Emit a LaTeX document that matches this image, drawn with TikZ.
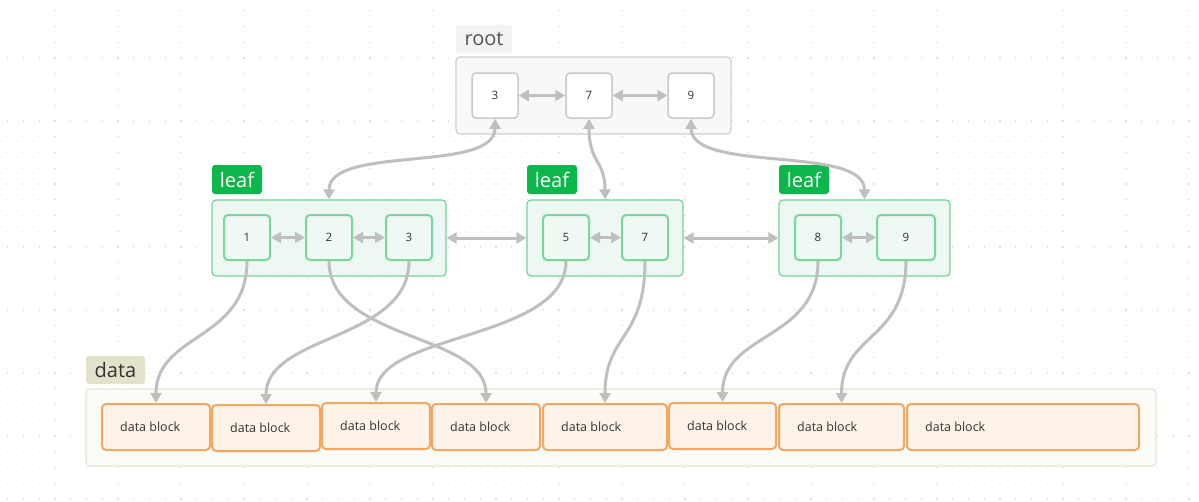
\documentclass[tikz,border=0pt]{standalone}
\usepackage{fontspec}
\setmainfont{Open Sans}
\usetikzlibrary{arrows.meta}
\definecolor{dotc}{HTML}{E0E0E0}
\definecolor{arrowc}{HTML}{BFBFBF}
\definecolor{rootborder}{HTML}{CFCFCF}
\definecolor{rootfill}{HTML}{F8F8F8}
\definecolor{rnodeborder}{HTML}{C9C9C9}
\definecolor{rootlabfill}{HTML}{F3F3F3}
\definecolor{rootlabtext}{HTML}{555555}
\definecolor{greenlab}{HTML}{0BB74B}
\definecolor{leafborder}{HTML}{72D49A}
\definecolor{leaffill}{HTML}{EEF8F2}
\definecolor{lnodeborder}{HTML}{78D69F}
\definecolor{lnodefill}{HTML}{EFF8F3}
\definecolor{datafill}{HTML}{FBFBF8}
\definecolor{databorder}{HTML}{E5E5D5}
\definecolor{datalabfill}{HTML}{E3E2CB}
\definecolor{blockborder}{HTML}{F2A762}
\definecolor{blockfill}{HTML}{FEF3E9}
\definecolor{txt}{HTML}{333333}
\begin{document}
\begin{tikzpicture}[x=1pt,y=-1pt,
  container/.style={rounded corners=4pt, line width=1.2pt, inner sep=0pt, minimum height=77pt},
  rootbox/.style={container, draw=rootborder, fill=rootfill},
  leafbox/.style={container, draw=leafborder, fill=leaffill, minimum height=76pt},
  databox/.style={container, draw=databorder, fill=datafill},
  rnode/.style={draw=rnodeborder, fill=white, rounded corners=4pt, line width=1.5pt,
    minimum width=46pt, minimum height=45pt, inner sep=0pt, font=\fontsize{11.5}{13}\selectfont, text=txt},
  lnode/.style={draw=lnodeborder, fill=lnodefill, rounded corners=4pt, line width=2pt,
    minimum width=46pt, minimum height=45pt, inner sep=0pt, font=\fontsize{11.5}{13}\selectfont, text=txt},
  block/.style={draw=blockborder, fill=blockfill, rounded corners=4pt, line width=2pt,
    minimum height=46pt, inner sep=0pt},
  blocktext/.style={anchor=west, inner sep=0pt, font=\fontsize{12.5}{14}\selectfont, text=txt},
  tag/.style={rounded corners=3pt, inner sep=0pt, minimum height=29pt, font=\fontsize{20}{22}\selectfont},
  roottag/.style={tag, fill=rootlabfill, text=rootlabtext, minimum width=56pt},
  leaftag/.style={tag, fill=greenlab, text=white, minimum width=50pt},
  datatag/.style={tag, fill=datalabfill, text=txt, minimum width=59pt, minimum height=28pt},
  tip/.tip={Triangle[length=10pt,width=11pt]},
  conn/.style={draw=arrowc, line width=3pt, -tip},
  biconn/.style={draw=arrowc, line width=3pt, tip-tip},
]
\useasboundingbox (0,0) rectangle (1199,501);
\fill[white] (0,0) rectangle (1199,501);
\foreach \i in {0,...,75} {
  \foreach \j in {0,...,31} {
    \fill[dotc] ({7.1+15.75*\i},{10.1+15.75*\j}) rectangle +(1.3,1.3);
  }
}

% root
\node[roottag] (roottag) at (484,39) {root};
\node[rootbox, minimum width=275pt] (root) at (593.5,95.5) {};
\node[rnode] (r3) at (495,95.5) {3};
\node[rnode] (r7) at (589,95.5) {7};
\node[rnode] (r9) at (691,95.5) {9};
\draw[biconn] (r3.east) -- (r7.west);
\draw[biconn] (r7.east) -- (r9.west);

% leaves
\node[leaftag] (tag1) at (237,179.5) {leaf};
\node[leaftag] (tag2) at (552,179.5) {leaf};
\node[leaftag] (tag3) at (804,179.5) {leaf};
\node[leafbox, minimum width=234pt] (L1) at (329,238) {};
\node[leafbox, minimum width=156pt] (L2) at (605,238) {};
\node[leafbox, minimum width=171pt] (L3) at (864.5,238) {};
\node[lnode] (n1) at (247,237.5) {1};
\node[lnode] (n2) at (329,237.5) {2};
\node[lnode] (n3) at (409,237.5) {3};
\node[lnode] (n5) at (566,237.5) {5};
\node[lnode] (n7) at (645,237.5) {7};
\node[lnode] (n8) at (818,237.5) {8};
\node[lnode, minimum width=58pt] (n9) at (906,237.5) {9};
\draw[biconn] (n1.east) -- (n2.west);
\draw[biconn] (n2.east) -- (n3.west);
\draw[biconn] (n5.east) -- (n7.west);
\draw[biconn] (n8.east) -- (n9.west);
\draw[biconn] (L1.east) -- (L2.west);
\draw[biconn] (L2.east) -- (L3.west);

% root to leaves
\draw[biconn] (r3.south) .. controls +(0,55) and +(0,-55) .. (L1.north);
\draw[biconn] (r7.south) .. controls +(0,45) and +(0,-40) .. (L2.north);
\draw[biconn] (r9.south) .. controls +(0,55) and +(0,-55) .. (L3.north);

% data
\node[datatag] (datatag) at (115.5,370) {data};
\node[databox, minimum width=1070pt] (data) at (621,427.5) {};
\node[block, minimum width=108pt] (d1) at (156,427) {};
\node[block, minimum width=108pt] (d2) at (266,428) {};
\node[block, minimum width=108pt] (d3) at (376,426) {};
\node[block, minimum width=108pt] (d4) at (486,427) {};
\node[block, minimum width=124pt] (d5) at (605,427) {};
\node[block, minimum width=107pt] (d6) at (722.5,426) {};
\node[block, minimum width=125pt] (d7) at (841.5,427) {};
\node[block, minimum width=232pt] (d8) at (1023,427) {};
\foreach \d in {d1,d2,d3,d4,d5,d6,d7,d8} {
  \node[blocktext] at ([xshift=19pt]\d.west) {data block};
}

% leaves to data
\draw[conn] (n1.south) .. controls +(0,80) and +(0,-70) .. (d1.north);
\draw[conn] (n2.south) .. controls +(0,80) and +(0,-70) .. (d4.north);
\draw[conn] (n3.south) .. controls +(0,80) and +(0,-70) .. (d2.north);
\draw[conn] (n5.south) .. controls +(0,80) and +(0,-70) .. (d3.north);
\draw[conn] (n7.south) .. controls +(0,80) and +(0,-70) .. (d5.north);
\draw[conn] (n8.south) .. controls +(0,80) and +(0,-70) .. (d6.north);
\draw[conn] (n9.south) .. controls +(0,80) and +(0,-70) .. (d7.north);
\end{tikzpicture}
\end{document}
